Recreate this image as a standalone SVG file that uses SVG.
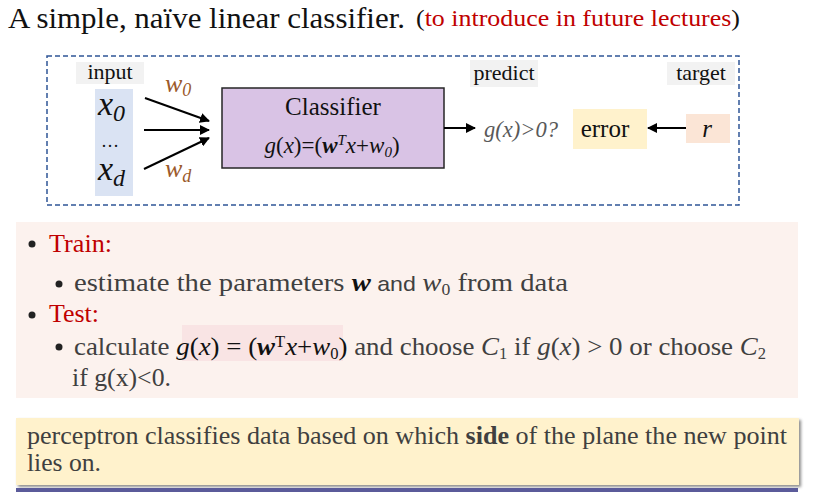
<svg xmlns="http://www.w3.org/2000/svg" width="818" height="492" viewBox="0 0 818 492">
<style>
.ser{font-family:"Liberation Serif","Times New Roman",serif}
.lbl{font-size:22px;fill:#111}
.it{font-style:italic}
.br{fill:#9b5a2b}
.body{font-family:"Liberation Serif","Times New Roman",serif;font-size:26px;fill:#404040}
.red{fill:#c00000}
.dk{fill:#111}
.conn line{stroke:#000;stroke-width:2}
</style>
<defs>
<marker id="ah" viewBox="0 0 10 10" refX="9" refY="5" markerWidth="5" markerHeight="5" orient="auto-start-reverse" markerUnits="strokeWidth">
<path d="M0,0 L10,5 L0,10 z" fill="#000"/>
</marker>
<filter id="sh" x="-5%" y="-20%" width="110%" height="150%">
<feDropShadow dx="2" dy="2" stdDeviation="1.5" flood-color="#000" flood-opacity="0.45"/>
</filter>
</defs>
<rect width="818" height="492" fill="#fff"/>

<g id="title">
<text x="8" y="28" class="ser" font-size="30" fill="#111" textLength="397" lengthAdjust="spacingAndGlyphs">A simple, naïve linear classifier.</text>
<text x="416" y="26" class="ser" font-size="23" fill="#111" textLength="324" lengthAdjust="spacingAndGlyphs">(<tspan class="red">to introduce in future lectures</tspan>)</text>
</g>

<g id="frame">
<rect x="47" y="56" width="692" height="149" fill="none" stroke="#2f5597" stroke-width="1.5" stroke-dasharray="5,3"/>
</g>

<g id="input">
<rect x="76" y="62" width="68" height="22" fill="#f2f2f2"/>
<text x="110" y="79" class="ser lbl" text-anchor="middle">input</text>
<rect x="95" y="89" width="38" height="107" fill="#dae3f3"/>
<text x="98" y="115" class="ser it" font-size="34" fill="#111">x<tspan font-size="24" dy="6">0</tspan></text>
<text x="110" y="147" class="ser" font-size="18" fill="#111" text-anchor="middle">…</text>
<text x="98" y="180" class="ser it" font-size="34" fill="#111">x<tspan font-size="24" dy="6">d</tspan></text>
</g>

<g id="weights">
<text x="165" y="92" class="ser it br" font-size="26">w<tspan font-size="18" dy="4">0</tspan></text>
<text x="165" y="177" class="ser it br" font-size="26">w<tspan font-size="18" dy="5">d</tspan></text>
</g>

<g id="classifier">
<rect x="222" y="88" width="222" height="80" fill="#d9c3e5" stroke="#262626" stroke-width="1.5"/>
<text x="333" y="115" class="ser" font-size="25" fill="#111" text-anchor="middle">Classifier</text>
<text x="332" y="153" class="ser" font-size="23" fill="#111" text-anchor="middle"><tspan class="it">g</tspan>(<tspan class="it">x</tspan>)=(<tspan class="it" font-weight="bold">w</tspan><tspan class="it" font-size="15" dy="-8">T</tspan><tspan class="it" dy="8">x</tspan>+<tspan class="it">w</tspan><tspan class="it" font-size="15" dy="4">0</tspan><tspan dy="-4">)</tspan></text>
</g>

<g id="predict">
<rect x="470" y="60" width="68" height="27" fill="#f2f2f2"/>
<text x="504" y="80" class="ser lbl" text-anchor="middle">predict</text>
<text x="484" y="137" class="ser it" font-size="24" fill="#595959" textLength="74" lengthAdjust="spacingAndGlyphs">g(x)&gt;0?</text>
</g>

<g id="error">
<rect x="573" y="109" width="74" height="40" fill="#fff2cc"/>
<text x="605" y="137" class="ser" font-size="25" fill="#111" text-anchor="middle">error</text>
</g>

<g id="target">
<rect x="667" y="62" width="68" height="23" fill="#f2f2f2"/>
<text x="701" y="80" class="ser lbl" text-anchor="middle">target</text>
<rect x="686" y="114" width="44" height="29" fill="#fbe5d6"/>
<text x="707" y="137" class="ser it" font-size="25" fill="#111" text-anchor="middle">r</text>
</g>

<g id="connectors" class="conn">
<line x1="145" y1="98" x2="209" y2="121" marker-end="url(#ah)"/>
<line x1="144" y1="130" x2="209" y2="130" marker-end="url(#ah)"/>
<line x1="144" y1="169" x2="209" y2="138" marker-end="url(#ah)"/>
<line x1="444" y1="128" x2="475" y2="128" marker-end="url(#ah)"/>
<line x1="686" y1="128" x2="648" y2="128" marker-end="url(#ah)"/>
</g>

<g id="notes">
<rect x="16" y="222" width="782" height="176" fill="#fcf2ee"/>
<circle cx="32" cy="244" r="3.5" fill="#222"/>
<text x="49" y="252" class="body red" textLength="63" lengthAdjust="spacingAndGlyphs">Train:</text>
<circle cx="59" cy="284" r="3.5" fill="#222"/>
<text x="74" y="291" class="body" textLength="494" lengthAdjust="spacingAndGlyphs">estimate the parameters <tspan class="it dk" font-weight="bold">w</tspan><tspan font-family="Liberation Sans,sans-serif" font-size="21"> and </tspan><tspan class="it">w</tspan><tspan font-size="16" dy="4">0</tspan><tspan dy="-4"> from data</tspan></text>
<circle cx="32" cy="315" r="3.5" fill="#222"/>
<text x="49" y="322" class="body red" textLength="50" lengthAdjust="spacingAndGlyphs">Test:</text>
<rect x="182" y="325" width="161" height="36" fill="#f9e4e4"/>
<circle cx="59" cy="347" r="3.5" fill="#222"/>
<text x="74" y="355" class="body" textLength="692" lengthAdjust="spacingAndGlyphs">calculate <tspan class="it dk">g</tspan><tspan class="dk">(</tspan><tspan class="it dk">x</tspan><tspan class="dk">) = (</tspan><tspan class="it dk" font-weight="bold">w</tspan><tspan class="dk" font-size="16" dy="-8">T</tspan><tspan class="it dk" dy="8">x</tspan><tspan class="dk">+</tspan><tspan class="it dk">w</tspan><tspan class="dk" font-size="16" dy="4">0</tspan><tspan class="dk" dy="-4">)</tspan> and choose <tspan class="it">C</tspan><tspan font-size="16" dy="4">1</tspan><tspan dy="-4"> if </tspan><tspan class="it">g</tspan>(<tspan class="it">x</tspan>) &gt; 0 or choose <tspan class="it">C</tspan><tspan font-size="16" dy="4">2</tspan></text>
<text x="72" y="386" class="body" textLength="99" lengthAdjust="spacingAndGlyphs">if g(x)&lt;0.</text>
</g>

<g id="summary">
<rect x="16" y="418" width="783" height="67" fill="#fff2cc" filter="url(#sh)"/>
<text x="27" y="444" class="body" font-size="22" textLength="760" lengthAdjust="spacingAndGlyphs">perceptron classifies data based on which <tspan font-weight="bold">side</tspan> of the plane the new point</text>
<text x="27" y="471" class="body" font-size="22" textLength="74" lengthAdjust="spacingAndGlyphs">lies on.</text>
<rect x="16" y="488" width="782" height="4" fill="#5b5b9a"/>
</g>
</svg>
